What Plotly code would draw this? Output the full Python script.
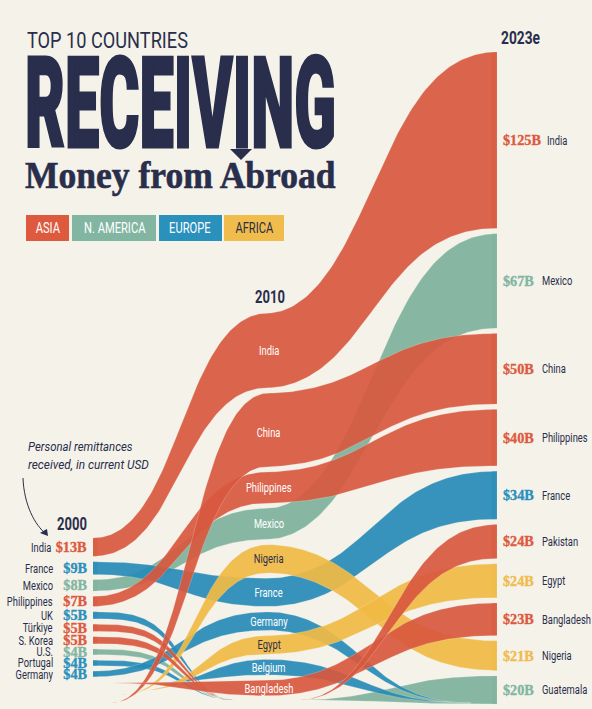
import json
import numpy as np
import plotly.graph_objects as go

W, H = 592, 709
BG = "#F5F2EA"
DARK = "#282E4B"
SANS = "Roboto"
SERIF = "Liberation Serif"

##### data, $B #####
order_2000 = ["India", "France", "Mexico", "Philippines", "UK", "Türkiye", "S. Korea", "U.S.", "Portugal", "Germany"]
values_2000 = [13, 9, 8, 7, 5, 5, 5, 4, 4, 4]
order_2010 = ["India", "China", "Philippines", "Mexico", "Nigeria", "France", "Germany", "Egypt", "Belgium", "Bangladesh"]
values_2010 = [53, 52, 22, 22, 20, 20, 13, 13, 11, 11]
order_2023 = ["India", "Mexico", "China", "Philippines", "France", "Pakistan", "Egypt", "Bangladesh", "Nigeria", "Guatemala"]
values_2023 = [125, 67, 50, 40, 34, 24, 24, 23, 21, 20]

# year a ribbon appears / runs out when it is outside the top 10
enter_year = {"China": 2001.0, "Nigeria": 2001.6, "Egypt": 2002.4, "Belgium": 2003.4, "Bangladesh": 2001.1,
              "Pakistan": 2011.8, "Guatemala": 2011.8}
exit_year = {"UK": 2008.0, "Türkiye": 2008.0, "S. Korea": 2008.0, "U.S.": 2008.0, "Portugal": 2008.0,
             "Germany": 2021.5, "Belgium": 2021.5}

asia = ["India", "China", "Philippines", "S. Korea", "Türkiye", "Bangladesh", "Pakistan"]
america = ["Mexico", "U.S.", "Guatemala"]
europe = ["France", "UK", "Portugal", "Germany", "Belgium"]
africa = ["Nigeria", "Egypt"]
legend_names = ["ASIA", "N. AMERICA", "EUROPE", "AFRICA"]

RED, TEAL, BLUE, YELLOW = "#DD5A3F", "#82B6A2", "#2A90BC", "#F0BC4C"
fills = {RED: "rgba(216,88,62,0.92)", TEAL: "rgba(125,178,156,0.92)",
         BLUE: "rgba(38,139,182,0.92)", YELLOW: "rgba(240,186,68,0.92)"}

def colour(name):
    if name in asia:
        return RED
    if name in america:
        return TEAL
    if name in europe:
        return BLUE
    return YELLOW

##### scales: year -> px, $B -> px #####
PX_PER_YEAR = (497 - 93) / 23
PX_PER_B = 1.41
xrange_ = [2000 - 93 / PX_PER_YEAR, 2000 + (W - 93) / PX_PER_YEAR]
yrange_ = [H / PX_PER_B, 0]
GAP = 5.4 / PX_PER_B
tops = {2000: 538 / PX_PER_B, 2010: 313 / PX_PER_B, 2023: 52 / PX_PER_B}
enter_level = {"China": 703, "Nigeria": 695, "Egypt": 691, "Belgium": 683, "Bangladesh": 683,
               "Pakistan": 700, "Guatemala": 700}
EXIT_LEVEL = {2000: 700 / PX_PER_B, 2010: 703 / PX_PER_B}

def year_at(px):
    return 2000 + (px - 93) / PX_PER_YEAR

def stack(order, values, top):
    out = {}
    y = top
    for n, v in zip(order, values):
        out[n] = (y, y + v, v)
        y += v + GAP
    return out

col_2000 = stack(order_2000, values_2000, tops[2000])
col_2010 = stack(order_2010, values_2010, tops[2010])
col_2023 = stack(order_2023, values_2023, tops[2023])

def knots(name):
    k = []
    if name in col_2000:
        k.append((2000, *col_2000[name][:2]))
    elif name in enter_year and enter_year[name] < 2010:
        lv = enter_level[name] / PX_PER_B
        k.append((enter_year[name], lv, lv))
    if name in col_2010:
        k.append((2010, *col_2010[name][:2]))
    elif name in enter_year and enter_year[name] > 2010:
        lv = enter_level[name] / PX_PER_B
        k.append((enter_year[name], lv, lv))
    elif name in exit_year and exit_year[name] < 2010:
        k.append((exit_year[name], EXIT_LEVEL[2000], EXIT_LEVEL[2000]))
    if name in col_2023:
        k.append((2023, *col_2023[name][:2]))
    elif name in exit_year and exit_year[name] > 2010:
        k.append((exit_year[name], EXIT_LEVEL[2010], EXIT_LEVEL[2010]))
    return k

def ease(a, b):
    # horizontal-handle bezier between two columns
    u = np.linspace(0, 1, 400)
    tx = 1.5 * u - 1.5 * u ** 2 + u ** 3
    sy = 3 * u ** 2 - 2 * u ** 3
    t = np.linspace(0, 1, 90)
    if a[0] >= 2010:
        power = 0.9
    elif b[0] < 2010:
        power = 1.5  # ribbons running out before 2010 hold their line longer
    else:
        power = 1.0
    return t, np.interp(t ** power, tx, sy)

def ribbon(k):
    xs, up, lo = [], [], []
    for a, b in zip(k[:-1], k[1:]):
        t, s = ease(a, b)
        xs += list(a[0] + (b[0] - a[0]) * t)
        up += list(a[1] + (b[1] - a[1]) * s)
        lo += list(a[2] + (b[2] - a[2]) * s)
    return xs + xs[::-1], up + lo[::-1]

fig = go.Figure()

names = list(dict.fromkeys(order_2000 + order_2010 + order_2023))
for c in [TEAL, BLUE, YELLOW, RED]:
    for n in names:
        if colour(n) != c:
            continue
        x, y = ribbon(knots(n))
        fig.add_trace(go.Scatter(x=x, y=y, mode="lines", fill="toself", fillcolor=fills[c],
                                 line=dict(color="rgba(245,242,234,0.45)", width=0.5),
                                 hoverinfo="skip", showlegend=False))

# darker strip where each band ends at a labelled column
for col, x0, x1 in [(col_2000, 2000, 2000.25), (col_2023, 2022.7, 2023)]:
    for n, (t, b, v) in col.items():
        fig.add_trace(go.Scatter(x=[x0, x1, x1, x0], y=[t, t, b, b], mode="lines", fill="toself",
                                 fillcolor=fills[colour(n)].replace("0.92", "0.45"), line=dict(width=0),
                                 hoverinfo="skip", showlegend=False))

anns = []
specs = []  # one per annotation: how far the text is squeezed sideways in the page

def px_text(txt, x, y, size, color=DARK, family=SANS, anchor="left", weight="normal", style="normal",
            squeeze=0.72, width=None, stroke=0):
    anns.append(dict(text=txt, xref="paper", yref="paper", x=x / W, y=1 - y / H, showarrow=False,
                     xanchor=anchor, yanchor="middle", align=anchor,
                     font=dict(family=family, size=size, color=color, weight=weight, style=style)))
    specs.append(dict(s=squeeze, a=anchor, w=width, x0=x, stroke=stroke, c=color))

def data_text(txt, x, y, size, color=DARK, family=SANS, anchor="left", weight="normal", squeeze=0.72, stroke=0):
    anns.append(dict(text=txt, xref="x", yref="y", x=x, y=y, showarrow=False,
                     xanchor=anchor, yanchor="middle", align=anchor,
                     font=dict(family=family, size=size, color=color, weight=weight)))
    specs.append(dict(s=squeeze, a=anchor, w=None, x0=None, stroke=stroke, c=color))

##### column labels #####
for n in order_2000:
    t, b, v = col_2000[n]
    m = (t + b) / 2
    data_text(n, year_at(53 if n == "India" else 55), m, 13, anchor="right")
    data_text(f"${v}B", year_at(89), m, 15, colour(n), SERIF, "right", "bold", squeeze=0.95, stroke=0.35)

for n in order_2010:
    t, b, v = col_2010[n]
    nudge = 3 / PX_PER_B if n == "China" else 0
    data_text(n, 2010, (t + b) / 2 + nudge, 13, DARK if colour(n) == YELLOW else "white", anchor="center")

for n in order_2023:
    t, b, v = col_2023[n]
    m = (t + b) / 2
    data_text(f"${v}B", year_at(501), m, 15, colour(n), SERIF, "left", "bold", squeeze=0.95, stroke=0.35)
    data_text(n, year_at(545 if n == "India" else 540), m, 13, anchor="left")

px_text("2000", 57, 523, 19, anchor="left", weight="bold", width=30)
px_text("2010", 255, 296, 19, anchor="left", weight="bold", width=30)
px_text("2023e", 501, 37, 19, anchor="left", weight="bold", width=39)

##### title #####
px_text("TOP 10 COUNTRIES", 27, 40, 22, width=161)
px_text("RECEIVING", 25, 104, 126, weight=900, width=311, stroke=3)
px_text("Money from Abroad", 25, 175, 37, family=SERIF, weight="bold", width=311, stroke=0.6)
px_text("Personal remittances", 28, 446, 13, style="italic", width=105)
px_text("received, in current USD", 28, 464, 13, style="italic", width=121)

##### legend boxes #####
def P(x, y):
    return f"{x / W},{1 - y / H}"

def box(x0, x1, y0, y1, c):
    return dict(type="rect", xref="paper", yref="paper", x0=x0 / W, x1=x1 / W, y0=1 - y1 / H, y1=1 - y0 / H,
                fillcolor=c, line=dict(width=0), layer="below")

shapes = []
lx = [(26, 69), (72, 156), (159, 222), (224, 284)]
for nm, (a, b), c in zip(legend_names, lx, [RED, TEAL, BLUE, YELLOW]):
    shapes.append(box(a, b, 215, 241, c))
    px_text(nm, (a + b) / 2, 228, 15.5, DARK if c == YELLOW else "white", anchor="center", squeeze=0.72)

# arrow of the I, and the curved note arrow
shapes.append(dict(type="path", xref="paper", yref="paper", line=dict(width=0), fillcolor=DARK,
                   path=f"M{P(230, 149)} L{P(252, 149)} L{P(241, 160)} Z"))
shapes.append(dict(type="path", xref="paper", yref="paper", line=dict(color=DARK, width=1),
                   path=f"M{P(23, 478)} C{P(24, 505)} {P(35, 525)} {P(46, 534)}"))
shapes.append(dict(type="path", xref="paper", yref="paper", line=dict(width=0), fillcolor=DARK,
                   path=f"M{P(48, 536)} L{P(40, 533)} L{P(45, 530)} L{P(47, 529)} Z"))

fig.update_layout(width=W, height=H, autosize=False, margin=dict(l=0, r=0, t=0, b=0),
                  paper_bgcolor=BG, plot_bgcolor=BG, showlegend=False,
                  xaxis=dict(range=xrange_, visible=False, fixedrange=True),
                  yaxis=dict(range=yrange_, visible=False, fixedrange=True),
                  annotations=anns, shapes=shapes)

# no condensed fonts here, so narrow the text in the page, it stays real text
post = """
document.body.style.margin = '0';
var specs = %s;
document.querySelectorAll('.annotation-text').forEach(function (el, i) {
  var f = specs[i], b = el.getBBox(), r = el.getBoundingClientRect();
  if (f.stroke) {
    el.style.stroke = f.c;
    el.style.strokeWidth = f.stroke + 'px';
    el.style.strokeLinejoin = 'miter';
  }
  if (f.w) {
    var s = f.w / r.width, dx = f.x0 - r.left;
    el.setAttribute('transform', 'translate(' + (dx + b.x) + ' 0) scale(' + s + ' 1) translate(' + (-b.x) + ' 0)');
  } else if (f.s != 1) {
    var ax = f.a == 'left' ? b.x : f.a == 'right' ? b.x + b.width : b.x + b.width / 2;
    el.setAttribute('transform', 'translate(' + ax + ' 0) scale(' + f.s + ' 1) translate(' + (-ax) + ' 0)');
  }
});
""" % json.dumps(specs)
fig.write_html("out.html", post_script=post, config={"displayModeBar": False})
